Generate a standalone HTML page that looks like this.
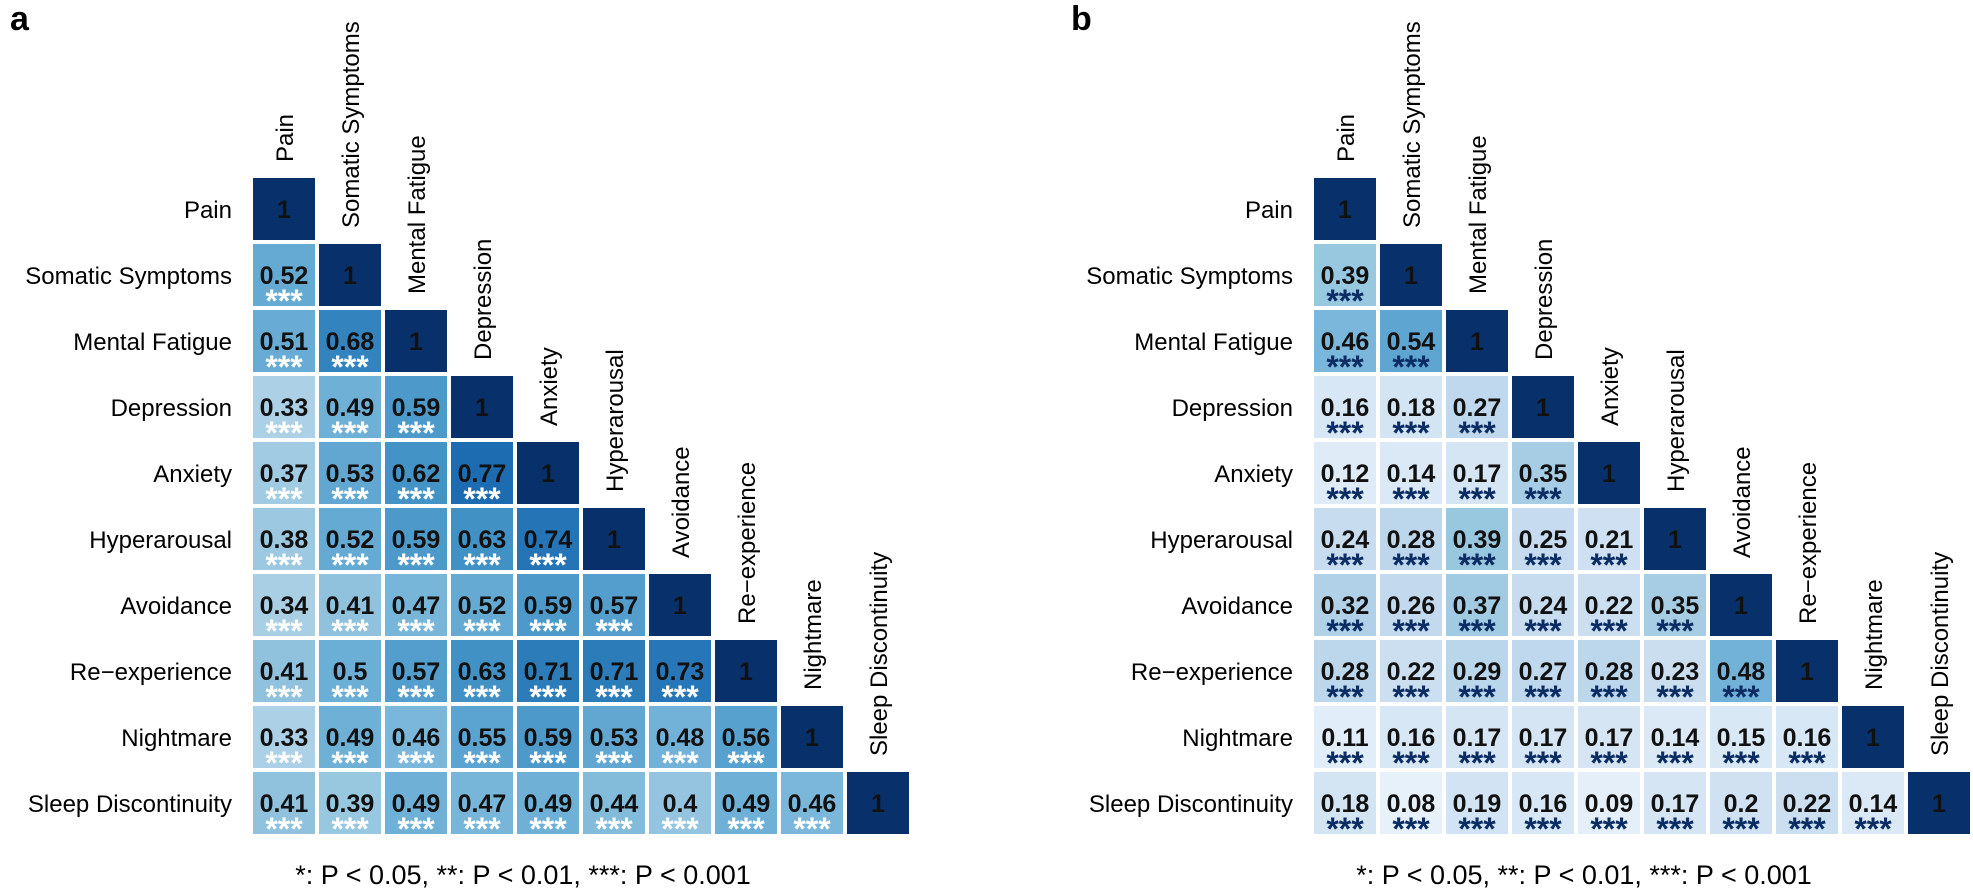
<!DOCTYPE html>
<html><head><meta charset="utf-8"><style>
body{margin:0;background:#fff;}
svg{display:block;font-family:"Liberation Sans",Arial,sans-serif;}
</style></head><body>
<svg id="s" width="1973" height="889" xmlns="http://www.w3.org/2000/svg"></svg>
<script>
const labels=["Pain","Somatic Symptoms","Mental Fatigue","Depression","Anxiety","Hyperarousal","Avoidance","Re\u2212experience","Nightmare","Sleep Discontinuity"];
const A=[[],[.52],[.51,.68],[.33,.49,.59],[.37,.53,.62,.77],[.38,.52,.59,.63,.74],[.34,.41,.47,.52,.59,.57],[.41,.5,.57,.63,.71,.71,.73],[.33,.49,.46,.55,.59,.53,.48,.56],[.41,.39,.49,.47,.49,.44,.4,.49,.46]];
const B=[[],[.39],[.46,.54],[.16,.18,.27],[.12,.14,.17,.35],[.24,.28,.39,.25,.21],[.32,.26,.37,.24,.22,.35],[.28,.22,.29,.27,.28,.23,.48],[.11,.16,.17,.17,.17,.14,.15,.16],[.18,.08,.19,.16,.09,.17,.2,.22,.14]];
const pal=["#f7fbff","#deebf7","#c6dbef","#9ecae1","#6baed6","#4292c6","#2171b5","#08519c","#08306b"];
function hex(h){return [1,3,5].map(i=>parseInt(h.substr(i,2),16));}
function col(t){t=Math.max(0,Math.min(1,t))*8;const i=Math.min(7,Math.floor(t)),f=t-i;const a=hex(pal[i]),b=hex(pal[i+1]);return "rgb("+a.map((v,k)=>Math.round(v+(b[k]-v)*f)).join(",")+")";}
let h="";
function panel(x0,M,starCol,letter){
 const y0=178,p=66,c=62;
 h+=`<text x="${x0-243}" y="30" font-size="34" font-weight="bold">${letter}</text>`;
 for(let i=0;i<10;i++){
  h+=`<text x="${x0-21}" y="${y0+p*i+40}" font-size="24" text-anchor="end">${labels[i]}</text>`;
  const cx=x0+p*i+c/2+9, by=y0+p*i-16;
  h+=`<text transform="translate(${cx},${by}) rotate(-90)" font-size="24">${labels[i]}</text>`;
  for(let j=0;j<=i;j++){
   const x=x0+p*j,y=y0+p*i;
   if(i==j){h+=`<rect x="${x}" y="${y}" width="${c}" height="${c}" fill="#08306b"/><text x="${x+c/2}" y="${y+40}" font-size="25" font-weight="bold" text-anchor="middle" fill="#111">1</text>`;}
   else{const v=M[i][j];h+=`<rect x="${x}" y="${y}" width="${c}" height="${c}" fill="${col(v)}"/><text x="${x+c/2}" y="${y+40}" font-size="25" font-weight="bold" text-anchor="middle" fill="#111">${v}</text><text x="${x+c/2}" y="${y+68}" font-size="32" font-weight="bold" text-anchor="middle" fill="${starCol}">***</text>`;}
  }
 }
 h+=`<text x="${x0+270}" y="884" font-size="27" text-anchor="middle">*: P &lt; 0.05, **: P &lt; 0.01, ***: P &lt; 0.001</text>`;
}
panel(253,A,"#ffffff","a");
panel(1314,B,"#0b2d63","b");
document.getElementById("s").innerHTML=h;
</script>
</body></html>
